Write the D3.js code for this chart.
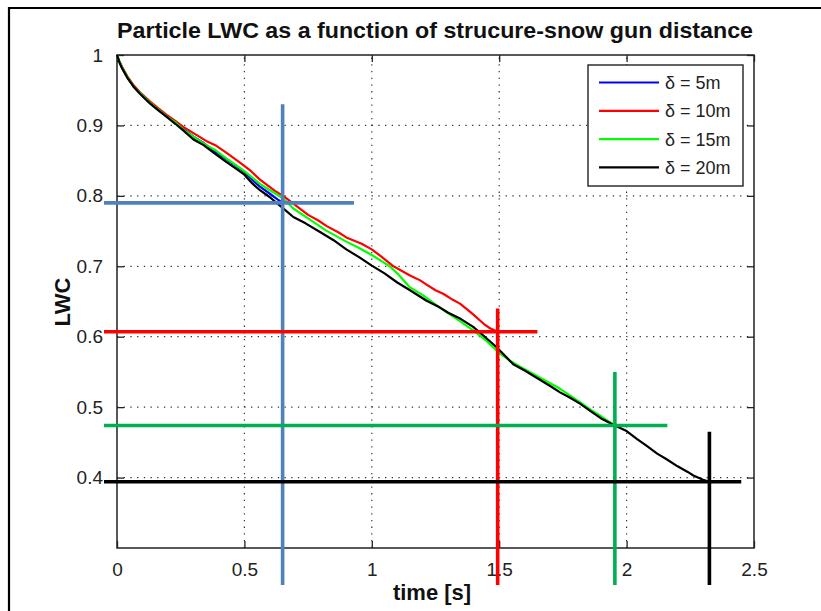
<!DOCTYPE html>
<html>
<head>
<meta charset="utf-8">
<script src="https://cdn.jsdelivr.net/npm/d3@7"></script>
<style>
  html, body { margin: 0; padding: 0; background: #fff; }
  svg { display: block; font-family: "Liberation Sans", Arial, sans-serif; }
</style>
</head>
<body>
<svg id="chart" width="821" height="611"></svg>
<script>
// ---- data -------------------------------------------------------------
const seriesNames = ["δ = 5m", "δ = 10m", "δ = 15m", "δ = 20m"];
const seriesColors = ["#0000ff", "#ff0000", "#00ff00", "#000000"];

// particle LWC vs time, one array per structure–snow gun distance
const timeD5 = [0, 0.01, 0.02, 0.04, 0.065, 0.09, 0.13, 0.16, 0.195, 0.23, 0.26, 0.3, 0.34, 0.38, 0.43, 0.47, 0.5, 0.53, 0.561, 0.6, 0.63, 0.65];
const lwcD5  = [1, 0.990, 0.982, 0.969, 0.956, 0.946, 0.932, 0.923, 0.913, 0.904, 0.895, 0.884, 0.875, 0.864, 0.852, 0.842, 0.834, 0.823, 0.813, 0.803, 0.795, 0.790];

const timeD10 = [0, 0.01, 0.02, 0.04, 0.065, 0.09, 0.13, 0.16, 0.195, 0.23, 0.26, 0.3, 0.35, 0.39, 0.43, 0.48, 0.52, 0.561, 0.62, 0.66, 0.692, 0.75, 0.79, 0.823, 0.87, 0.9, 0.96, 1.0, 1.04, 1.085, 1.12, 1.15, 1.19, 1.215, 1.25, 1.28, 1.32, 1.346, 1.38, 1.4, 1.44, 1.464, 1.494];
const lwcD10  = [1, 0.990, 0.983, 0.970, 0.957, 0.947, 0.934, 0.925, 0.915, 0.906, 0.898, 0.889, 0.878, 0.871, 0.861, 0.848, 0.837, 0.823, 0.807, 0.798, 0.789, 0.773, 0.765, 0.757, 0.748, 0.741, 0.732, 0.724, 0.713, 0.700, 0.693, 0.687, 0.680, 0.674, 0.666, 0.661, 0.652, 0.647, 0.637, 0.631, 0.618, 0.612, 0.607];

const timeD15 = [0, 0.01, 0.02, 0.04, 0.065, 0.09, 0.13, 0.16, 0.195, 0.23, 0.26, 0.3, 0.35, 0.39, 0.43, 0.5, 0.561, 0.6, 0.65, 0.692, 0.75, 0.82, 0.9, 0.95, 1.0, 1.04, 1.07, 1.1, 1.15, 1.2, 1.268, 1.33, 1.398, 1.45, 1.503, 1.55, 1.6, 1.65, 1.7, 1.739, 1.78, 1.817, 1.86, 1.9, 1.954];
const lwcD15  = [1, 0.990, 0.982, 0.969, 0.955, 0.946, 0.932, 0.923, 0.913, 0.904, 0.894, 0.884, 0.872, 0.864, 0.853, 0.835, 0.817, 0.808, 0.797, 0.782, 0.768, 0.751, 0.735, 0.726, 0.716, 0.707, 0.700, 0.690, 0.670, 0.659, 0.641, 0.626, 0.609, 0.594, 0.576, 0.564, 0.554, 0.544, 0.534, 0.526, 0.516, 0.507, 0.496, 0.487, 0.474];

const timeD20 = [0, 0.01, 0.02, 0.04, 0.065, 0.09, 0.13, 0.16, 0.195, 0.23, 0.26, 0.3, 0.34, 0.38, 0.43, 0.47, 0.5, 0.53, 0.561, 0.6, 0.63, 0.65, 0.692, 0.74, 0.8, 0.85, 0.9, 0.95, 1.0, 1.05, 1.1, 1.15, 1.215, 1.26, 1.3, 1.35, 1.398, 1.44, 1.49, 1.555, 1.6, 1.65, 1.7, 1.739, 1.78, 1.817, 1.86, 1.9, 1.954, 2.0, 2.04, 2.079, 2.12, 2.157, 2.2, 2.24, 2.262, 2.3, 2.325];
const lwcD20  = [1, 0.989, 0.981, 0.968, 0.955, 0.945, 0.931, 0.922, 0.912, 0.902, 0.893, 0.880, 0.872, 0.861, 0.848, 0.838, 0.830, 0.818, 0.808, 0.798, 0.789, 0.783, 0.770, 0.761, 0.748, 0.737, 0.724, 0.713, 0.701, 0.690, 0.677, 0.666, 0.651, 0.643, 0.634, 0.625, 0.614, 0.601, 0.585, 0.561, 0.552, 0.541, 0.530, 0.521, 0.513, 0.505, 0.494, 0.484, 0.474, 0.466, 0.455, 0.445, 0.434, 0.426, 0.416, 0.408, 0.403, 0.397, 0.394];

// end point of each run (time reached, final LWC), marked by a cross
const markTime  = [0.65, 1.494, 1.954, 2.325];
const markLwc   = [0.790, 0.607, 0.474, 0.394];
const markColors = ["#4f81bd", "#ff0000", "#00b050", "#000000"];

const xTicks = [0, 0.5, 1, 1.5, 2, 2.5];
const xTickLabels = ["0", "0.5", "1", "1.5", "2", "2.5"];
const yTicks = [0.4, 0.5, 0.6, 0.7, 0.8, 0.9, 1];
const yTickLabels = ["0.4", "0.5", "0.6", "0.7", "0.8", "0.9", "1"];

const titleText = "Particle LWC as a function of strucure-snow gun distance";
const xLabel = "time [s]";
const yLabel = "LWC";

// ---- layout ------------------------------------------------------------
const svg = d3.select("#chart");
const plot = { left: 117, right: 754, top: 55, bottom: 548 };

const x = d3.scaleLinear().domain([0, 2.5]).range([plot.left, plot.right]);
const y = d3.scaleLinear().domain([0.3, 1]).range([plot.bottom, plot.top]);

// outer figure frame (top and left edges)
svg.append("path")
  .attr("d", "M9,611 L9,8 L821,8")
  .attr("fill", "none").attr("stroke", "#000").attr("stroke-width", 2.2);

// grid
const grid = svg.append("g").attr("stroke", "#333").attr("stroke-width", 1.2)
  .attr("stroke-dasharray", "1.3,5.4");
grid.selectAll("line.gx").data(xTicks.slice(1, -1)).join("line")
  .attr("x1", d => x(d)).attr("x2", d => x(d))
  .attr("y1", plot.bottom).attr("y2", plot.top);
grid.selectAll("line.gy").data(yTicks.slice(0, -1)).join("line")
  .attr("y1", d => y(d)).attr("y2", d => y(d))
  .attr("x1", plot.left).attr("x2", plot.right);

// axes: ticks point inward on all four sides
const tickLen = 7;
const axStyle = g => {
  g.select(".domain").remove();
  g.selectAll(".tick line").attr("stroke", "#222").attr("stroke-width", 1.3);
  g.selectAll(".tick text").attr("fill", "#222")
    .style("font-family", "'Liberation Sans', Arial, sans-serif")
    .style("font-size", "19px");
};
svg.append("g").attr("transform", `translate(0,${plot.bottom})`)
  .call(d3.axisBottom(x).tickValues(xTicks).tickFormat((d, i) => xTickLabels[i])
    .tickSizeInner(-tickLen).tickSizeOuter(0).tickPadding(15))
  .call(axStyle);
svg.append("g").attr("transform", `translate(0,${plot.top})`)
  .call(d3.axisTop(x).tickValues(xTicks).tickFormat("")
    .tickSizeInner(-tickLen).tickSizeOuter(0))
  .call(axStyle);
svg.append("g").attr("transform", `translate(${plot.left},0)`)
  .call(d3.axisLeft(y).tickValues(yTicks).tickFormat((d, i) => yTickLabels[i])
    .tickSizeInner(-tickLen).tickSizeOuter(0).tickPadding(14))
  .call(axStyle);
svg.append("g").attr("transform", `translate(${plot.right},0)`)
  .call(d3.axisRight(y).tickValues(yTicks).tickFormat("")
    .tickSizeInner(-tickLen).tickSizeOuter(0))
  .call(axStyle);

// axes box
svg.append("rect")
  .attr("x", plot.left).attr("y", plot.top)
  .attr("width", plot.right - plot.left).attr("height", plot.bottom - plot.top)
  .attr("fill", "none").attr("stroke", "#222").attr("stroke-width", 1.5);

// LWC curves
const seriesTime = [timeD5, timeD10, timeD15, timeD20];
const seriesLwc = [lwcD5, lwcD10, lwcD15, lwcD20];
const line = d3.line().x(d => x(d[0])).y(d => y(d[1]));
seriesTime.forEach((ts, i) => {
  svg.append("path")
    .datum(ts.map((t, k) => [t, seriesLwc[i][k]]))
    .attr("d", line)
    .attr("fill", "none")
    .attr("stroke", seriesColors[i])
    .attr("stroke-width", 2.2)
    .attr("stroke-linejoin", "round");
});

// end-point crosses
const crossLeft = 104;
const crossRightT = [0.93, 1.65, 2.16, 2.45];
const crossTopLwc = [0.93, 0.64, 0.55, 0.465];
const crossBottom = 585;
markTime.forEach((t, i) => {
  const g = svg.append("g").attr("stroke", markColors[i]).attr("stroke-width", 3.6);
  g.append("line")
    .attr("x1", crossLeft).attr("x2", x(crossRightT[i]))
    .attr("y1", y(markLwc[i])).attr("y2", y(markLwc[i]));
  g.append("line")
    .attr("x1", x(t)).attr("x2", x(t))
    .attr("y1", y(crossTopLwc[i])).attr("y2", crossBottom);
});

// legend
const lg = svg.append("g");
lg.append("rect").attr("x", 588).attr("y", 65).attr("width", 155).attr("height", 121)
  .attr("fill", "#fff").attr("stroke", "#222").attr("stroke-width", 1.4);
seriesNames.forEach((name, i) => {
  const yy = 82.5 + i * 28.3;
  lg.append("line").attr("x1", 599).attr("x2", 659).attr("y1", yy).attr("y2", yy)
    .attr("stroke", seriesColors[i]).attr("stroke-width", 2.2);
  lg.append("text").attr("x", 665).attr("y", yy).attr("dy", "0.36em")
    .attr("fill", "#222").style("font-size", "18px").text(name);
});

// title and axis labels
svg.append("text").attr("x", 435).attr("y", 38).attr("text-anchor", "middle")
  .attr("textLength", 636).attr("lengthAdjust", "spacingAndGlyphs")
  .style("font-size", "22px").style("font-weight", "bold").attr("fill", "#111")
  .text(titleText);
svg.append("text").attr("x", 432).attr("y", 600).attr("text-anchor", "middle")
  .style("font-size", "22px").style("font-weight", "bold").attr("fill", "#111")
  .text(xLabel);
svg.append("text")
  .attr("transform", "translate(70,302) rotate(-90)")
  .attr("text-anchor", "middle")
  .style("font-size", "22px").style("font-weight", "bold").attr("fill", "#111")
  .text(yLabel);
</script>
</body>
</html>
